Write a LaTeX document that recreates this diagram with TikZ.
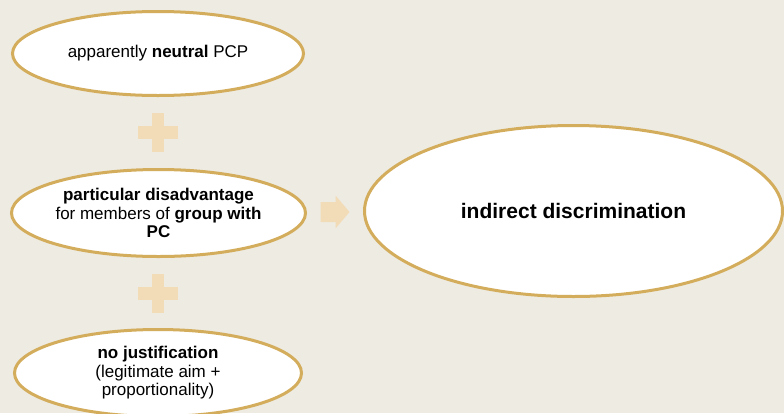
\documentclass[tikz,border=0pt]{standalone}
\usepackage{fontspec}
\setmainfont{Liberation Sans}
\usetikzlibrary{shapes.geometric}

\definecolor{paper}{HTML}{EEEBE3}
\definecolor{gold}{HTML}{D4AD5C}
\definecolor{sand}{HTML}{F2DCB8}

\tikzset{
    bar/.style={rectangle, fill=sand, draw=none, inner sep=0pt}
}

\begin{document}
\begin{tikzpicture}[x=1pt, y=-1pt]
\useasboundingbox (0,0) rectangle (784,413);
\clip (0,0) rectangle (784,413);
\fill[paper] (0,0) rectangle (784,413);

\begin{scope}[every node/.style={ellipse, draw=gold, line width=3pt, fill=white, inner sep=0pt, align=center, font=\fontsize{17}{18.5}\selectfont}]
    \node (neutral) at (158, 53.5) [minimum width=291pt, minimum height=84pt] {apparently \textbf{neutral} PCP};
    \node (disadv) at (158.5, 213) [minimum width=294pt, minimum height=87pt] {\textbf{particular disadvantage}\\ for members of \textbf{group with}\\ \textbf{PC}};
    \node (nojust) at (158, 373) [minimum width=287pt, minimum height=87pt] {\textbf{no justification}\\ (legitimate aim +\\ proportionality)};
    \node (indirect) at (573.5, 211) [minimum width=418pt, minimum height=171pt, font=\fontsize{21}{24}\selectfont\bfseries] {indirect discrimination};
\end{scope}

% plus signs and arrow
\path (neutral) -- (disadv) coordinate[midway] (plusA);
\path (disadv) -- (nojust) coordinate[midway] (plusB);
\path (disadv.east) -- (indirect.west) coordinate[midway] (arrowmid);

\node[bar, minimum width=12pt, minimum height=39pt] at (plusA) {};
\node[bar, minimum width=40pt, minimum height=13pt] at (plusA) {};
\node[bar, minimum width=12pt, minimum height=39pt] at (plusB) {};
\node[bar, minimum width=40pt, minimum height=13pt] at (plusB) {};

\fill[sand] ([shift={(-14.5,-10)}]arrowmid) -- ++(15,0) -- ++(0,-6.5) -- ++(14,16.5) -- ++(-14,16.5) -- ++(0,-6.5) -- ++(-15,0) -- cycle;
\end{tikzpicture}
\end{document}
